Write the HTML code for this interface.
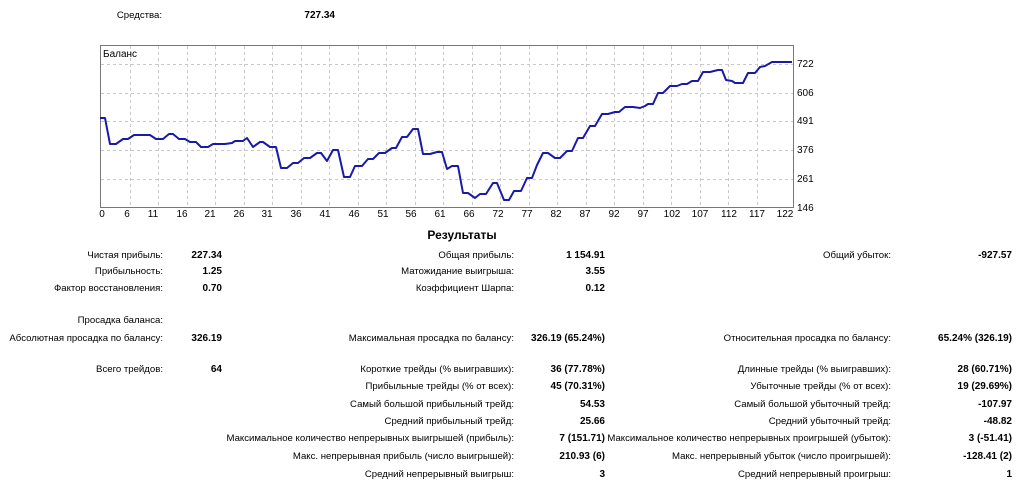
<!DOCTYPE html>
<html><head><meta charset="utf-8"><style>
body{margin:0;width:1017px;height:490px;background:#fff;position:relative;overflow:hidden;font-family:"Liberation Sans","DejaVu Sans",sans-serif;font-size:9.6px;color:#000}
.r{position:absolute;width:400px;text-align:right;white-space:nowrap;line-height:13px}
.b{font-weight:bold;font-size:10px}
svg text{font-family:"Liberation Sans",sans-serif;font-size:10px}
</style></head><body>
<div class="r" style="left:-238px;top:9px">Средства:</div>
<div class="r b" style="left:-65px;top:9px">727.34</div>

<svg width="1017" height="225" style="position:absolute;left:0;top:0">
<rect x="100.5" y="45.5" width="693" height="162" fill="#fff" stroke="#777"/>
<g stroke="#c8c8c8" stroke-dasharray="3,3" stroke-width="1">
<line x1="101" x2="793" y1="64.5" y2="64.5"/><line x1="101" x2="793" y1="93.5" y2="93.5"/><line x1="101" x2="793" y1="121.5" y2="121.5"/><line x1="101" x2="793" y1="150.5" y2="150.5"/><line x1="101" x2="793" y1="179.5" y2="179.5"/>
<line y1="46" y2="207" x1="130.5" x2="130.5"/><line y1="46" y2="207" x1="158.5" x2="158.5"/><line y1="46" y2="207" x1="187.5" x2="187.5"/><line y1="46" y2="207" x1="215.5" x2="215.5"/><line y1="46" y2="207" x1="244.5" x2="244.5"/><line y1="46" y2="207" x1="272.5" x2="272.5"/><line y1="46" y2="207" x1="301.5" x2="301.5"/><line y1="46" y2="207" x1="329.5" x2="329.5"/><line y1="46" y2="207" x1="358.5" x2="358.5"/><line y1="46" y2="207" x1="386.5" x2="386.5"/><line y1="46" y2="207" x1="415.5" x2="415.5"/><line y1="46" y2="207" x1="443.5" x2="443.5"/><line y1="46" y2="207" x1="472.5" x2="472.5"/><line y1="46" y2="207" x1="500.5" x2="500.5"/><line y1="46" y2="207" x1="529.5" x2="529.5"/><line y1="46" y2="207" x1="557.5" x2="557.5"/><line y1="46" y2="207" x1="586.5" x2="586.5"/><line y1="46" y2="207" x1="614.5" x2="614.5"/><line y1="46" y2="207" x1="643.5" x2="643.5"/><line y1="46" y2="207" x1="671.5" x2="671.5"/><line y1="46" y2="207" x1="700.5" x2="700.5"/><line y1="46" y2="207" x1="728.5" x2="728.5"/><line y1="46" y2="207" x1="757.5" x2="757.5"/>
</g>
<text x="103" y="57" font-size="8">Баланс</text>
<polyline fill="none" stroke="#1a1aa8" stroke-width="2" stroke-linejoin="round" points="100,118 105,118 110,144 116,144 123,139 128,139 134,135 150,135 156,139 163,139 169,134 173,134 179,139 185,139 190,142 196,142 201,147 208,147 213,144 225,144 232,143 235,141 243,141 247,138 253,147 260,142 263,142 270,147 276,147 281,168 287,168 293,163 298,163 304,158 310,158 317,153 321,153 327,161 333,150 338,150 344,177 350,177 355,166 362,166 368,159 373,159 379,153 385,153 392,148 396,148 402,137 407,137 413,129 418,129 423,154 430,154 437,152 442,152 447,169 452,166 458,166 463,193 468,193 475,198 480,194 486,194 493,183 497,183 504,200 509,200 514,191 521,191 527,178 532,178 537,165 543,153 548,153 555,158 560,158 567,151 572,151 578,138 583,138 590,126 595,126 602,114 608,114 615,112 619,112 625,107 633,107 640,108 645,106 648,104 653,104 658,93 663,93 670,86 677,86 682,84 687,84 692,81 698,81 703,72 710,72 718,70 722,70 726,80 732,81 735,83 743,83 748,73 755,73 760,67 765,66 772,62 792,62"/>
<g font-size="9" fill="#000">
<text x="797" y="67">722</text><text x="797" y="96">606</text><text x="797" y="124">491</text><text x="797" y="153">376</text><text x="797" y="182">261</text><text x="797" y="211">146</text>
</g>
<g font-size="9" text-anchor="middle">
<text x="102" y="217">0</text><text x="127" y="217">6</text><text x="153" y="217">11</text><text x="182" y="217">16</text><text x="210" y="217">21</text><text x="239" y="217">26</text><text x="267" y="217">31</text><text x="296" y="217">36</text><text x="325" y="217">41</text><text x="354" y="217">46</text><text x="383" y="217">51</text><text x="411" y="217">56</text><text x="440" y="217">61</text><text x="469" y="217">66</text><text x="498" y="217">72</text><text x="527" y="217">77</text><text x="556" y="217">82</text><text x="585" y="217">87</text><text x="614" y="217">92</text><text x="643" y="217">97</text><text x="672" y="217">102</text><text x="700" y="217">107</text><text x="729" y="217">112</text><text x="757" y="217">117</text><text x="785" y="217">122</text>
</g>
</svg>

<div style="position:absolute;left:412px;top:228px;width:100px;text-align:center;font-weight:bold;font-size:12px">Результаты</div>

<div class="r" style="left:-237px;top:249px">Чистая прибыль:</div><div class="r b" style="left:-178px;top:249px">227.34</div>
<div class="r" style="left:114px;top:249px">Общая прибыль:</div><div class="r b" style="left:205px;top:249px">1 154.91</div>
<div class="r" style="left:491px;top:249px">Общий убыток:</div><div class="r b" style="left:612px;top:249px">-927.57</div>

<div class="r" style="left:-237px;top:265px">Прибыльность:</div><div class="r b" style="left:-178px;top:265px">1.25</div>
<div class="r" style="left:114px;top:265px">Матожидание выигрыша:</div><div class="r b" style="left:205px;top:265px">3.55</div>

<div class="r" style="left:-237px;top:282px">Фактор восстановления:</div><div class="r b" style="left:-178px;top:282px">0.70</div>
<div class="r" style="left:114px;top:282px">Коэффициент Шарпа:</div><div class="r b" style="left:205px;top:282px">0.12</div>

<div class="r" style="left:-237px;top:314px">Просадка баланса:</div>
<div class="r" style="left:-237px;top:332px">Абсолютная просадка по балансу:</div><div class="r b" style="left:-178px;top:332px">326.19</div>
<div class="r" style="left:114px;top:332px">Максимальная просадка по балансу:</div><div class="r b" style="left:205px;top:332px">326.19 (65.24%)</div>
<div class="r" style="left:491px;top:332px">Относительная просадка по балансу:</div><div class="r b" style="left:612px;top:332px">65.24% (326.19)</div>

<div class="r" style="left:-237px;top:363px">Всего трейдов:</div><div class="r b" style="left:-178px;top:363px">64</div>
<div class="r" style="left:114px;top:363px">Короткие трейды (% выигравших):</div><div class="r b" style="left:205px;top:363px">36 (77.78%)</div>
<div class="r" style="left:491px;top:363px">Длинные трейды (% выигравших):</div><div class="r b" style="left:612px;top:363px">28 (60.71%)</div>

<div class="r" style="left:114px;top:380px">Прибыльные трейды (% от всех):</div><div class="r b" style="left:205px;top:380px">45 (70.31%)</div>
<div class="r" style="left:491px;top:380px">Убыточные трейды (% от всех):</div><div class="r b" style="left:612px;top:380px">19 (29.69%)</div>

<div class="r" style="left:114px;top:398px">Самый большой прибыльный трейд:</div><div class="r b" style="left:205px;top:398px">54.53</div>
<div class="r" style="left:491px;top:398px">Самый большой убыточный трейд:</div><div class="r b" style="left:612px;top:398px">-107.97</div>

<div class="r" style="left:114px;top:415px">Средний прибыльный трейд:</div><div class="r b" style="left:205px;top:415px">25.66</div>
<div class="r" style="left:491px;top:415px">Средний убыточный трейд:</div><div class="r b" style="left:612px;top:415px">-48.82</div>

<div class="r" style="left:114px;top:432px">Максимальное количество непрерывных выигрышей (прибыль):</div><div class="r b" style="left:205px;top:432px">7 (151.71)</div>
<div class="r" style="left:491px;top:432px">Максимальное количество непрерывных проигрышей (убыток):</div><div class="r b" style="left:612px;top:432px">3 (-51.41)</div>

<div class="r" style="left:114px;top:450px">Макс. непрерывная прибыль (число выигрышей):</div><div class="r b" style="left:205px;top:450px">210.93 (6)</div>
<div class="r" style="left:491px;top:450px">Макс. непрерывный убыток (число проигрышей):</div><div class="r b" style="left:612px;top:450px">-128.41 (2)</div>

<div class="r" style="left:114px;top:468px">Средний непрерывный выигрыш:</div><div class="r b" style="left:205px;top:468px">3</div>
<div class="r" style="left:491px;top:468px">Средний непрерывный проигрыш:</div><div class="r b" style="left:612px;top:468px">1</div>
</body></html>
